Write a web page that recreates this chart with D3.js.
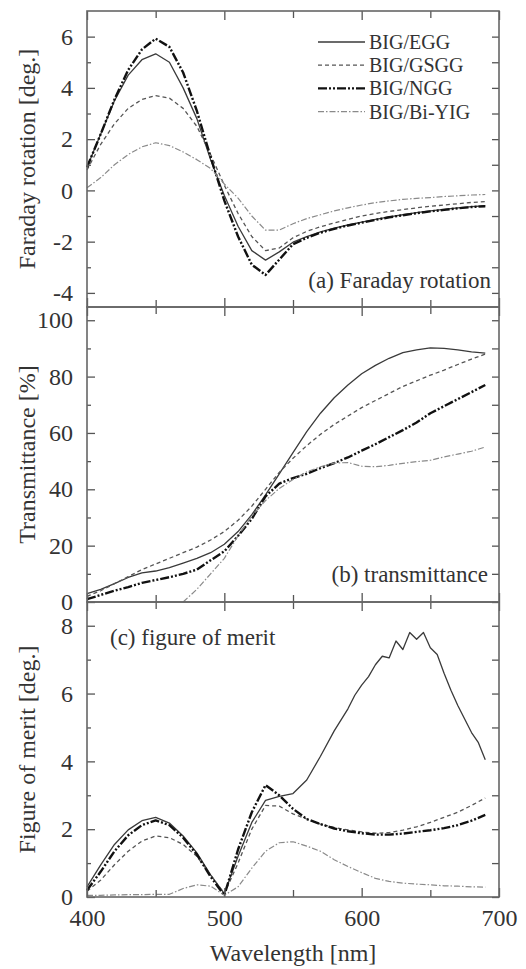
<!DOCTYPE html>
<html>
<head>
<meta charset="utf-8">
<script src="https://cdn.jsdelivr.net/npm/d3@7/dist/d3.min.js"></script>
<style>
body { margin: 0; background: #fff; }
text { font-family: "Liberation Serif", "Times New Roman", "DejaVu Serif", serif; fill: #333; }
</style>
</head>
<body>
<svg id="chart" width="526" height="969"></svg>
<script>

// wavelength grid [nm]
var wavelengths = [400,410,420,430,440,450,460,470,480,490,500,510,520,530,540,550,560,570,580,590,600,610,620,630,640,650,660,670,680,690];

var seriesNames = ["BIG/EGG", "BIG/GSGG", "BIG/NGG", "BIG/Bi-YIG"];

// (a) Faraday rotation [deg.]
var faradayEGG   = [0.9,2.2,3.5,4.5,5.1,5.33,5.0,4.0,2.8,1.2,-0.2,-1.4,-2.35,-2.72,-2.4,-2.02,-1.8,-1.62,-1.47,-1.35,-1.24,-1.13,-1.03,-0.95,-0.87,-0.8,-0.74,-0.68,-0.63,-0.6];
var faradayGSGG  = [0.8,1.8,2.6,3.2,3.55,3.7,3.6,3.2,2.5,1.4,0.2,-0.9,-1.8,-2.35,-2.25,-1.85,-1.6,-1.42,-1.27,-1.13,-1.0,-0.9,-0.82,-0.75,-0.68,-0.62,-0.57,-0.52,-0.47,-0.44];
var faradayNGG   = [0.9,2.2,3.55,4.7,5.5,5.92,5.6,4.6,3.1,1.3,-0.4,-1.8,-2.9,-3.3,-2.7,-2.1,-1.85,-1.65,-1.5,-1.37,-1.26,-1.15,-1.05,-0.97,-0.89,-0.82,-0.76,-0.7,-0.65,-0.62];
var faradayBiYIG = [0.1,0.5,1.0,1.4,1.7,1.86,1.75,1.5,1.2,0.85,0.25,-0.3,-1.0,-1.55,-1.55,-1.3,-1.1,-0.95,-0.8,-0.68,-0.57,-0.48,-0.41,-0.35,-0.31,-0.28,-0.24,-0.21,-0.18,-0.16];

// (b) transmittance [%]
var transEGG   = [3,4.5,6.5,8.7,10.3,11,12.2,13.8,15.5,17.5,20.5,25,31,38,45.5,53,60.5,67,72.5,77,81,84,86.5,88.5,89.5,90.2,90,89.5,88.8,88.3];
var transGSGG  = [2,4,6.5,9,11.5,13.5,15.5,17.5,19.5,22,25,29,34,40,46,51,55.5,59.5,63,66,69,71.5,74,76.5,78.5,80.5,82.3,84.3,86.2,88];
var transNGG   = [1,2.5,4,5.3,6.8,7.8,8.8,10,11.5,14.8,18,23.5,29.5,37.5,42,44,45.5,47.5,49.3,51.3,53.7,56,58.5,61,63.7,67,69.5,72,74.5,77];
var transBiYIG = [null,null,null,null,null,null,null,0,4.5,10,15.5,23.5,30.5,36,40.3,43.5,46.2,48,49.3,49.5,48.2,48,48.5,49.2,49.8,50.3,51.5,52.5,53.5,55];

// (c) figure of merit [deg.]
var meritWlEGG = [400,410,420,430,440,450,460,470,480,490,500,510,520,530,540,550,560,570,580,590,595,600,605,610,615,620,625,630,635,640,645,650,655,660,665,670,675,680,685,690];
var meritEGG   = [0.3,0.95,1.55,1.98,2.25,2.35,2.18,1.8,1.3,0.65,0.1,1.2,2.2,2.85,2.97,3.05,3.45,4.15,4.9,5.55,5.95,6.25,6.5,6.85,7.1,7.05,7.55,7.3,7.8,7.6,7.8,7.35,7.15,6.6,6.1,5.65,5.25,4.85,4.55,4.05];
var meritGSGG  = [0.17,0.5,0.95,1.35,1.65,1.8,1.75,1.55,1.2,0.65,0.1,1.0,2.0,2.7,2.68,2.45,2.3,2.15,2.05,1.98,1.92,1.88,1.9,1.97,2.07,2.2,2.35,2.5,2.7,2.92];
var meritNGG   = [0.2,0.75,1.35,1.82,2.12,2.26,2.12,1.75,1.25,0.6,0.05,1.4,2.5,3.3,3.0,2.6,2.3,2.15,2.02,1.94,1.88,1.84,1.84,1.87,1.92,1.97,2.03,2.12,2.25,2.42];
var meritBiYIG = [0.05,0.05,0.06,0.07,0.07,0.08,0.08,0.25,0.36,0.32,0.05,0.3,0.85,1.35,1.6,1.63,1.5,1.35,1.1,0.9,0.72,0.55,0.46,0.41,0.38,0.36,0.33,0.32,0.3,0.29];

// tick values
var xMajor = [400,500,600,700];
var xMinor = [450,550,650];
var faradayTicks = [-4,-2,0,2,4,6];
var faradayMinor = [-3,-1,1,3,5];
var transTicks = [0,20,40,60,80,100];
var transMinor = [10,30,50,70,90];
var meritTicks = [0,2,4,6,8];
var meritMinor = [1,3,5,7];


var lineStyles = [
    { stroke: "#3a3a3a", width: 1.3, dash: null },
    { stroke: "#555",    width: 1.3, dash: "4,3" },
    { stroke: "#111",    width: 2.4, dash: "9,2,2,2,2,2" },
    { stroke: "#8a8a8a", width: 1.2, dash: "6,2,1.5,2" }
];

var svg = d3.select("#chart");
var left = 87, right = 499;

var x = d3.scaleLinear().domain([400, 700]).range([left, right]);

var panels = [
    { top: 11, bottom: 307, domain: [-4.55, 7.0], ticks: faradayTicks, minor: faradayMinor,
      title: "Faraday rotation [deg.]",
      series: [[wavelengths, faradayEGG], [wavelengths, faradayGSGG], [wavelengths, faradayNGG], [wavelengths, faradayBiYIG]] },
    { top: 307, bottom: 602, domain: [0, 104.7], ticks: transTicks, minor: transMinor,
      title: "Transmittance [%]",
      series: [[wavelengths, transEGG], [wavelengths, transGSGG], [wavelengths, transNGG], [wavelengths, transBiYIG]] },
    { top: 602, bottom: 897, domain: [0, 8.7], ticks: meritTicks, minor: meritMinor,
      title: "Figure of merit [deg.]",
      series: [[meritWlEGG, meritEGG], [wavelengths, meritGSGG], [wavelengths, meritNGG], [wavelengths, meritBiYIG]] }
];

function styleAxis(g) {
    g.select(".domain").remove();
    g.selectAll("line").attr("stroke", "#555").attr("stroke-width", 1.3);
    g.selectAll("text")
        .style("font-family", "'Liberation Serif', 'Times New Roman', serif")
        .style("font-size", "24px")
        .attr("fill", "#333");
}

panels.forEach(function(p, pi) {

    var y = d3.scaleLinear().domain(p.domain).range([p.bottom, p.top]);

    var lineFn = d3.line()
        .defined(function(d) { return d[1] != null; })
        .x(function(d) { return x(d[0]); })
        .y(function(d) { return y(d[1]); });

    // curves
    p.series.forEach(function(s, i) {
        var pts = s[0].map(function(w, k) { return [w, s[1][k]]; });
        svg.append("path")
            .datum(pts)
            .attr("d", lineFn)
            .attr("fill", "none")
            .attr("stroke", lineStyles[i].stroke)
            .attr("stroke-width", lineStyles[i].width)
            .attr("stroke-dasharray", lineStyles[i].dash)
            .attr("stroke-linejoin", "round");
    });

    // left axis, major + minor, ticks inward
    svg.append("g")
        .attr("transform", "translate(" + left + ",0)")
        .call(d3.axisLeft(y).tickValues(p.ticks).tickSize(-8).tickPadding(14).tickFormat(d3.format("d")))
        .call(styleAxis)
        .selectAll("text").text(function(d) { return d < 0 ? "-" + Math.abs(d) : d; });

    svg.append("g")
        .attr("transform", "translate(" + left + ",0)")
        .call(d3.axisLeft(y).tickValues(p.minor).tickSize(-4).tickFormat(""))
        .call(styleAxis);

    // right axis
    svg.append("g")
        .attr("transform", "translate(" + right + ",0)")
        .call(d3.axisRight(y).tickValues(p.ticks.concat(p.minor)).tickSize(-7).tickFormat(""))
        .call(styleAxis);

    // top and bottom x ticks
    svg.append("g")
        .attr("transform", "translate(0," + p.bottom + ")")
        .call(d3.axisBottom(x).tickValues(xMajor).tickSize(-9).tickFormat(pi == 2 ? d3.format("d") : "").tickPadding(12))
        .call(styleAxis);
    svg.append("g")
        .attr("transform", "translate(0," + p.bottom + ")")
        .call(d3.axisBottom(x).tickValues(xMinor).tickSize(-7).tickFormat(""))
        .call(styleAxis);
    svg.append("g")
        .attr("transform", "translate(0," + p.top + ")")
        .call(d3.axisTop(x).tickValues(xMajor).tickSize(-9).tickFormat(""))
        .call(styleAxis);
    svg.append("g")
        .attr("transform", "translate(0," + p.top + ")")
        .call(d3.axisTop(x).tickValues(xMinor).tickSize(-7).tickFormat(""))
        .call(styleAxis);

    // frame
    svg.append("rect")
        .attr("x", left)
        .attr("y", p.top)
        .attr("width", right - left)
        .attr("height", p.bottom - p.top)
        .attr("fill", "none")
        .attr("stroke", "#666")
        .attr("stroke-width", 1.6);

    // y title
    svg.append("text")
        .attr("transform", "translate(35," + ((p.top + p.bottom) / 2) + ") rotate(-90)")
        .attr("text-anchor", "middle")
        .style("font-size", "24px")
        .text(p.title);
});

// panel labels
svg.append("text").attr("x", 491).attr("y", 288).attr("text-anchor", "end")
    .style("font-size", "23px").text("(a) Faraday rotation");
svg.append("text").attr("x", 488).attr("y", 582).attr("text-anchor", "end")
    .style("font-size", "23px").text("(b) transmittance");
svg.append("text").attr("x", 110).attr("y", 645)
    .style("font-size", "23px").text("(c) figure of merit");

// x title
svg.append("text")
    .attr("x", (left + right) / 2)
    .attr("y", 961)
    .attr("text-anchor", "middle")
    .style("font-size", "24px")
    .text("Wavelength [nm]");

// legend
var legend = svg.append("g").attr("transform", "translate(318,49)");
seriesNames.forEach(function(name, i) {
    var row = legend.append("g").attr("transform", "translate(0," + (i * 23.2) + ")");
    row.append("line")
        .attr("x1", 0).attr("x2", 47)
        .attr("y1", -7).attr("y2", -7)
        .attr("stroke", lineStyles[i].stroke)
        .attr("stroke-width", lineStyles[i].width)
        .attr("stroke-dasharray", lineStyles[i].dash);
    row.append("text")
        .attr("x", 51)
        .attr("y", 0)
        .style("font-size", "20px")
        .text(name);
});

</script>
</body>
</html>
